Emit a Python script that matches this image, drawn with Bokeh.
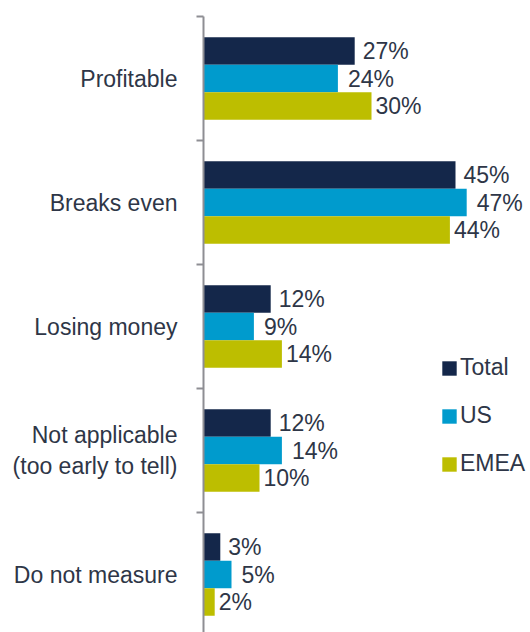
from bokeh.plotting import figure
from bokeh.models import Range1d, FixedTicker, Legend, LegendItem, ColumnDataSource
from bokeh.core.properties import value
from bokeh.embed import file_html
from bokeh.resources import INLINE

categories = ["Profitable", "Breaks even", "Losing money",
              "Not applicable\n(too early to tell)", "Do not measure"]
series_names = ["Total", "US", "EMEA"]
total = [27, 45, 12, 12, 3]
us = [24, 47, 9, 14, 5]
emea = [30, 44, 14, 10, 2]

colors = ["#14274A", "#009BCD", "#BDBE00"]
text_color = "#2E3647"
font = "Liberation Sans"
axis_color = "#8E8E93"

W, H = 530, 632
left_border = 203
top_border = 16
px_per_unit_y = 124.0
frame_h = H - top_border
frame_w = W - left_border
px_per_pct = 5.6

p = figure(width=W, height=H, output_backend="svg", toolbar_location=None,
           min_border_left=left_border, min_border_right=0,
           min_border_top=top_border, min_border_bottom=0,
           x_range=Range1d(0, frame_w / px_per_pct),
           y_range=Range1d(-0.5 + frame_h / px_per_unit_y, -0.5))
p.outline_line_color = None
p.xgrid.visible = False
p.ygrid.visible = False
p.xaxis.visible = False
p.background_fill_color = "white"
p.border_fill_color = "white"

n = len(categories)
idx = list(range(n))
offsets = [-0.222, 0.0, 0.222]
bar_h = 0.222
label_offsets = [8, 10, 4]
renderers = []
for vals, col, off, loff in zip([total, us, emea], colors, offsets, label_offsets):
    src = ColumnDataSource(dict(y=[i + off for i in idx], right=vals,
                                txt=[f"{v}%" for v in vals]))
    r = p.hbar(y="y", right="right", left=0, height=bar_h, source=src,
               fill_color=col, line_color=None)
    renderers.append(r)
    p.text(x="right", y="y", text="txt", source=src, x_offset=loff,
           text_align="left", text_baseline="middle",
           text_font=value(font), text_font_size="23px", text_color=text_color)

yaxis = p.yaxis[0]
yaxis.ticker = FixedTicker(ticks=idx, minor_ticks=[i - 0.5 for i in range(n)])
yaxis.major_label_overrides = {i: c for i, c in enumerate(categories)}
yaxis.major_label_text_font = font
yaxis.major_label_text_font_size = "23px"
yaxis.major_label_text_color = text_color
yaxis.major_label_text_line_height = 1.22
yaxis.major_label_standoff = 19
yaxis.major_tick_out = 0
yaxis.major_tick_in = 0
yaxis.minor_tick_out = 7
yaxis.minor_tick_in = 0
yaxis.minor_tick_line_color = axis_color
yaxis.minor_tick_line_width = 2
yaxis.axis_line_color = axis_color
yaxis.axis_line_width = 2

legend = Legend(items=[LegendItem(label=nm, renderers=[r]) for nm, r in zip(series_names, renderers)],
                location=(237, 155), orientation="vertical",
                glyph_width=18, glyph_height=18, label_standoff=2,
                label_text_font=font, label_text_font_size="23px",
                label_text_color=text_color, spacing=21, padding=0, margin=0,
                border_line_color=None, background_fill_alpha=0)
p.add_layout(legend)

open("out.html", "w").write(file_html(p, INLINE))
